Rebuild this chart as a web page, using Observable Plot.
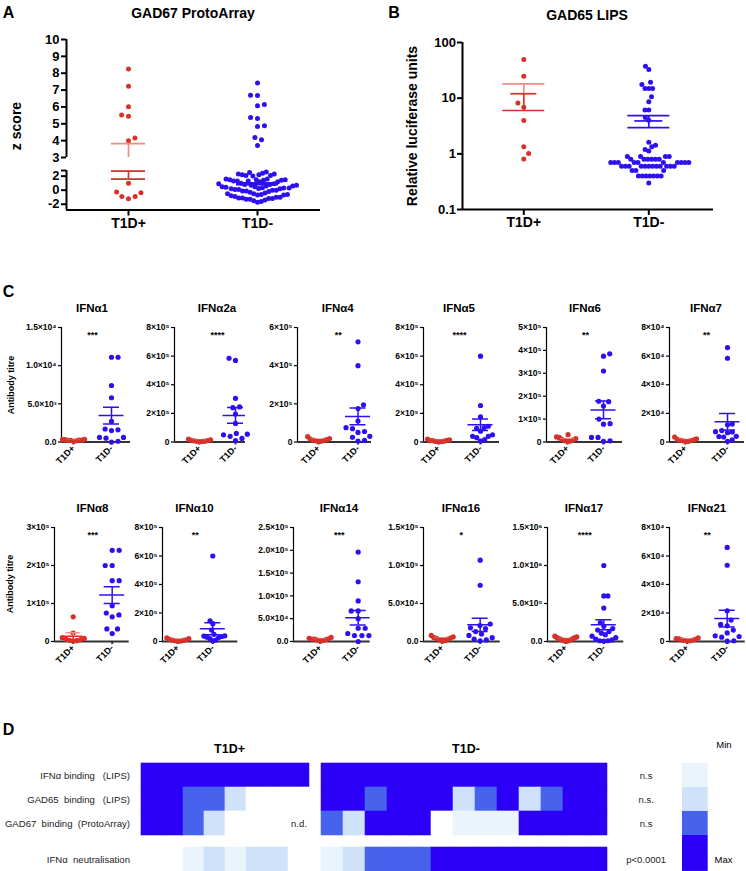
<!DOCTYPE html>
<html><head><meta charset="utf-8">
<script src="https://cdn.jsdelivr.net/npm/d3@7"></script>
<script src="https://cdn.jsdelivr.net/npm/@observablehq/plot@0.6"></script>
<style>
html,body{margin:0;padding:0;background:#fff;}
#page{position:relative;width:746px;height:871px;overflow:hidden;background:#fff;font-family:"Liberation Sans",Arial,Helvetica,sans-serif;}
#page svg{position:absolute;overflow:visible;}
.t{position:absolute;line-height:1;white-space:pre;transform:translate(-50%,-50%);color:#000;}
</style></head>
<body><div id="page"></div>
<script>
// ---------------- DATA ----------------
const groups = ["T1D+", "T1D-"];

// Panel A: GAD67 ProtoArray (z score)
const gad67Pos = [8.25, 7.22, 6.01, 5.52, 5.44, 4.15, 3.99, 1.0, -0.25, -0.9, -1.22, -0.9, -0.35];
const gad67Neg = [7.42, 6.7, 6.68, 6.15, 6.07, 5.38, 5.32, 4.88, 4.84, 4.19, 4.05, 3.71,
  2.6, 2.5, 2.4, 2.3, 2.2, 2.2, 2.1, 2.0, 2.1, 2.3,
  1.6, 1.5, 1.5, 1.4, 1.3, 1.3, 1.2, 1.2, 1.3, 1.4, 1.5, 1.6,
  1.0, 0.9, 0.8, 0.7, 0.6, 0.9, 0.8, 0.7, 0.6, 0.5, 0.5, 0.4,
  0.3, 0.2, 0.1, 0.0, -0.1, -0.2, 0.3, 0.2, 0.1, 0.0, -0.1, -0.3, 0.35, 0.25,
  -0.4, -0.5, -0.6, -0.7, -0.8, -0.5, -0.6, -0.7, -0.9, -1.0,
  -1.0, -1.1, -1.2, -1.3, -1.4, -1.5, -1.6, -1.7, -1.3, -1.2, -1.1];
const gad67Mean = [2.7, 0.92];
const gad67Sem = [1.12, 0.12];
const gad67UpperTicks = [3, 4, 5, 6, 7, 8, 9, 10];
const gad67LowerTicks = [-2, 0, 2];
const gad67LowerTickLabels = ["-2", "0", "2"];

// Panel B: GAD65 LIPS (relative luciferase units)
const gad65Pos = [49.5, 24.8, 8.2, 6.9, 3.98, 1.34, 1.01, 0.81];
const gad65Neg = [37.6, 32.7, 19.4, 17.6, 14.9, 14.9, 14.9, 10.6, 8.6, 6.1, 6.1, 4.5, 4.0, 1.62, 1.43, 1.34, 1.2, 1.12,
  0.9, 0.9, 0.9, 0.9, 0.8, 0.8, 0.8, 0.8, 0.8, 0.8,
  0.7, 0.7, 0.7, 0.7, 0.7, 0.7, 0.7, 0.7, 0.7, 0.7,
  0.6, 0.6, 0.6, 0.6, 0.6, 0.6, 0.6, 0.6, 0.6, 0.6, 0.6, 0.6,
  0.5, 0.5, 0.5, 0.4, 0.4, 0.4, 0.4, 0.4, 0.4, 0.4, 0.3];
const gad65Mean = [12, 3.9];
const gad65Sem = [6, 0.95];
const gad65Ticks = [0.1, 1, 10, 100];
const gad65TickLabels = ["0.1", "1", "10", "100"];

// Panel C: IFN-alpha subtypes (antibody titre)
const ifnNames = ["IFNα1", "IFNα2a", "IFNα4", "IFNα5", "IFNα6", "IFNα7",
                  "IFNα8", "IFNα10", "IFNα14", "IFNα16", "IFNα17", "IFNα21"];
const ifnSig = ["***", "****", "**", "****", "**", "**", "***", "**", "***", "*", "****", "**"];
const ifnPos = [
  [350, 300, 250, 200, 300, 150, 100, 250, 200],
  [20000, 15000, 12000, 8000, 6000, 5000, 4000, 3000, 10000],
  [28000, 18000, 15000, 10000, 8000, 6000, 4000, 2000, 12000],
  [20000, 15000, 12000, 9000, 6000, 4000, 3000, 2000, 10000],
  [32000, 22000, 20000, 12000, 9000, 6000, 4000, 2000, 15000],
  [3500, 2200, 1800, 1200, 800, 500, 300, 1500, 1000],
  [65000, 22000, 10000, 8000, 6000, 5000, 3000, 2000, 1000],
  [25000, 20000, 15000, 10000, 8000, 5000, 3000, 2000, 12000],
  [9000, 7000, 6000, 5000, 4000, 3000, 2000, 1000, 5500],
  [8000, 6000, 5000, 4000, 3000, 2000, 1000, 500, 4500],
  [70000, 60000, 50000, 40000, 30000, 20000, 15000, 10000, 5000, 3000, 40000, 55000, 25000],
  [2500, 2000, 1500, 1000, 800, 500, 300, 1800, 1200]];
const ifnNeg = [
  [11100, 11100, 7400, 5800, 2700, 1700, 1600, 1500, 600, 600, 500, 100, 0],
  [585000, 570000, 305000, 245000, 240000, 195000, 130000, 60000, 55000, 50000, 40000, 25000, 10000],
  [525000, 400000, 195000, 175000, 110000, 75000, 70000, 55000, 50000, 30000, 25000, 8000, 5000],
  [600000, 255000, 175000, 110000, 100000, 95000, 75000, 50000, 40000, 40000, 30000, 16000, 7000],
  [385000, 375000, 310000, 178000, 176000, 157000, 100000, 80000, 78000, 20000, 20000, 5000, 3000],
  [66000, 58500, 12500, 12000, 8000, 7200, 7000, 6500, 4000, 3800, 3500, 1500, 500],
  [240000, 240000, 200000, 200000, 160000, 160000, 94000, 75000, 70000, 65000, 33000, 33000, 21000],
  [600000, 145000, 125000, 80000, 50000, 40000, 38000, 35000, 30000, 28000, 20000, 10000, 5000],
  [196000, 131000, 89000, 67000, 67000, 50000, 29000, 29000, 17500, 13000, 13000, 13000, 0],
  [107000, 74000, 23000, 21000, 18000, 17000, 13000, 10000, 8000, 5000, 3000, 2000, 1000],
  [1000000, 600000, 600000, 440000, 250000, 200000, 170000, 150000, 130000, 110000, 90000, 70000, 50000, 30000, 20000, 10000, 10000, 5000],
  [66000, 53500, 21500, 15000, 12000, 11000, 8000, 6000, 4000, 3500, 3000, 500, 200]];
const ifnPosMean = [230, 9000, 11500, 9000, 10000, 1400, 13500, 11000, 4700, 3800, 32000, 1300];
const ifnPosSem = [30, 2000, 2800, 2000, 3000, 330, 9500, 2600, 850, 800, 6000, 250];
const ifnNegMean = [3460, 186000, 134000, 121000, 140000, 14100, 122000, 89000, 52000, 21900, 219000, 16100];
const ifnNegSem = [1100, 55000, 44000, 40000, 39000, 5800, 22000, 42000, 16000, 8800, 66000, 5900];
const ifnTickStep = [5000, 2e5, 2e5, 2e5, 1e5, 2e4, 1e5, 2e5, 5e4, 5e4, 5e5, 2e4];
const ifnTickLabels = [
  ["0.0", "5.0×10³", "1.0×10⁴", "1.5×10⁴"],
  ["0", "2×10⁵", "4×10⁵", "6×10⁵", "8×10⁵"],
  ["0", "2×10⁵", "4×10⁵", "6×10⁵"],
  ["0", "2×10⁵", "4×10⁵", "6×10⁵", "8×10⁵"],
  ["0", "1×10⁵", "2×10⁵", "3×10⁵", "4×10⁵", "5×10⁵"],
  ["0", "2×10⁴", "4×10⁴", "6×10⁴", "8×10⁴"],
  ["0", "1×10⁵", "2×10⁵", "3×10⁵"],
  ["0", "2×10⁵", "4×10⁵", "6×10⁵", "8×10⁵"],
  ["0.0", "5.0×10⁴", "1.0×10⁵", "1.5×10⁵", "2.0×10⁵", "2.5×10⁵"],
  ["0.0", "5.0×10⁴", "1.0×10⁵", "1.5×10⁵"],
  ["0.0", "5.0×10⁵", "1.0×10⁶", "1.5×10⁶"],
  ["0", "2×10⁴", "4×10⁴", "6×10⁴", "8×10⁴"]];

// Panel D: heatmap levels (0 none, 1 min ... 4 max)
const heatRows = ["IFNα binding\u00a0\u00a0 (LIPS)", "GAD65\u00a0 binding\u00a0\u00a0 (LIPS)", "GAD67\u00a0 binding\u00a0 (ProtoArray)"];
const neutralRow = ["IFNα\u00a0 neutralisation"];
const heatPos = [
  [4, 4, 4, 4, 4, 4, 4, 4],
  [4, 4, 3, 3, 2, 0, 0, 0],
  [4, 4, 3, 2, 0, 0, 0, 0]];
const heatNeg = [
  [4, 4, 4, 4, 4, 4, 4, 4, 4, 4, 4, 4, 4],
  [4, 4, 3, 4, 4, 4, 2, 3, 4, 2, 3, 4, 4],
  [3, 2, 4, 4, 4, 0, 1, 1, 1, 4, 4, 4, 4]];
const neutralPos = [0, 0, 1, 2, 1, 2, 2, 0];
const neutralNeg = [1, 2, 3, 3, 3, 4, 4, 4, 4, 4, 4, 4, 4];
const heatStats = ["n.s", "n.s.", "n.s"];
const neutralStats = ["p<0.0001"];
const legendLevels = [1, 2, 3, 4];
const heatColors = ["#ffffff", "#ebf3fd", "#cfe2fa", "#4763ee", "#2c00f6"];

// ---------------- STYLE / LAYOUT ----------------
const FONT = '"Liberation Sans", Arial, Helvetica, sans-serif';
const RED = "#d7322a", RED_LIGHT = "#ee8d86", BLUE = "#2d10f2";
const page = document.getElementById("page");
const baseStyle = {background: "transparent", overflow: "visible", fontFamily: FONT, color: "#000"};

function put(el, left, top) {
  el.style.left = left + "px"; el.style.top = top + "px"; page.appendChild(el);
}
function label(text, cx, cy, size, weight = "bold", rotate = false) {
  const d = document.createElement("div");
  d.className = "t"; d.textContent = text;
  d.style.fontSize = size + "px"; d.style.fontWeight = weight;
  d.style.left = cx + "px"; d.style.top = cy + "px";
  if (rotate) d.style.transform = "translate(-50%,-50%) rotate(-90deg)";
  page.appendChild(d);
}

// beeswarm offsets (pixels) for a column of points
function dodge(pys, D, maxHalf) {
  const n = pys.length, xs = new Array(n);
  const order = d3.range(n).sort((a, b) => pys[b] - pys[a] || a - b);
  const placed = [];
  let bal = 0;
  for (const i of order) {
    const y = pys[i];
    const near = placed.filter(p => Math.abs(p.y - y) < D);
    const cands = [0];
    for (const p of near) {
      const dx = Math.sqrt(D * D - (p.y - y) ** 2);
      cands.push(p.x - dx, p.x + dx);
    }
    cands.sort((a, b) => (Math.abs(a) - Math.abs(b)) || (bal > 0 ? a - b : b - a));
    let x = 0;
    for (const c of cands) {
      if (near.every(p => (p.x - c) ** 2 + (p.y - y) ** 2 >= D * D - 1e-6)) { x = c; break; }
    }
    xs[i] = x; bal += Math.sign(x);
    placed.push({x, y});
  }
  const m = d3.max(xs, Math.abs) || 0;
  return m > maxHalf ? xs.map(x => x * maxHalf / m) : xs;
}

function scatter(c) {
  const u = c.g1 - c.g0, W = c.right - c.left, H = c.bottom - c.top;
  const xDomain = [-(c.g0 - c.left) / u, (c.right - c.g0) / u];
  const lo = Math.min(...c.yDomain), hi = Math.max(...c.yDomain);
  const ys = (c.log ? d3.scaleLog() : d3.scaleLinear()).domain(c.yDomain).range([H, 0]);
  const pts = [];
  [c.pos, c.neg].forEach((vals, k) => {
    const vs = vals.filter(v => v >= lo && v <= hi);
    const off = dodge(vs.map(v => ys(v)), c.D, c.maxHalf[k]);
    vs.forEach((v, i) => pts.push({k, v, x: k + off[i] / u}));
  });
  const errs = [0, 1].map(k => ({k, m: c.mean[k], lo: c.mean[k] - c.sem[k], hi: c.mean[k] + c.sem[k]}));
  const dark = [RED, BLUE], light = [RED_LIGHT, BLUE];
  const allTicks = c.ticks.concat(c.stubs || []);
  const marks = [
    Plot.ruleX([xDomain[0]], {stroke: "#000", strokeWidth: c.axisW}),
    Plot.axisY({ticks: allTicks, tickFormat: d => { const i = c.ticks.indexOf(d); return i < 0 ? "" : c.tickLabels[i]; },
      tickSize: c.tickSize, tickPadding: c.tickPad, fontSize: c.tickFont, fontWeight: "bold",
      strokeWidth: c.axisW, label: null})
  ];
  if (c.showX) {
    marks.push(
      Plot.ruleY([c.yDomain[0]], {stroke: c.xAxisColor, strokeWidth: c.xAxisW}),
      Plot.axisX({ticks: [0, 1], tickFormat: d => groups[d], tickRotate: c.xRotate || 0,
        tickSize: c.xTickSize, tickPadding: c.xPad, fontSize: c.xFont, fontWeight: "bold",
        strokeWidth: c.xAxisW, stroke: c.xAxisColor, label: null})
    );
  }
  marks.push(
    Plot.dot(pts, {x: "x", y: "v", r: c.r, fill: d => dark[d.k], stroke: "none"}),
    Plot.ruleX(errs, {x: "k", y1: "lo", y2: "m", stroke: d => dark[d.k], strokeWidth: c.lw, clip: true}),
    Plot.ruleX(errs, {x: "k", y1: "m", y2: "hi", stroke: d => light[d.k], strokeWidth: c.lw, clip: true}),
    Plot.ruleY(errs, {y: "hi", x1: d => d.k - c.capHalf[d.k] / u, x2: d => d.k + c.capHalf[d.k] / u,
      stroke: d => light[d.k], strokeWidth: c.lw, clip: true}),
    Plot.ruleY(errs, {y: "lo", x1: d => d.k - c.capHalf[d.k] / u, x2: d => d.k + c.capHalf[d.k] / u,
      stroke: d => dark[d.k], strokeWidth: c.lw, clip: true}),
    Plot.ruleY(errs, {y: "m", x1: d => d.k - c.meanHalf[d.k] / u, x2: d => d.k + c.meanHalf[d.k] / u,
      stroke: d => dark[d.k], strokeWidth: c.lw, clip: true})
  );
  if (c.sig) marks.push(Plot.text([c.sig], {x: () => 0.5, frameAnchor: "top", dy: 4, fontSize: 9, fontWeight: "bold", fill: "#000"}));
  const svg = Plot.plot({
    width: c.mL + W + c.mR, height: c.mT + H + c.mB,
    marginLeft: c.mL, marginRight: c.mR, marginTop: c.mT, marginBottom: c.mB,
    x: {domain: xDomain, axis: null},
    y: {type: c.log ? "log" : "linear", domain: c.yDomain},
    color: {type: "identity"},
    style: baseStyle,
    marks
  });
  put(svg, c.left - c.mL, c.top - c.mT);
}

// ---------------- PANEL A ----------------
const aCommon = {pos: gad67Pos, neg: gad67Neg, mean: gad67Mean, sem: gad67Sem,
  left: 66, right: 320, g0: 128, g1: 257, mL: 50, mR: 10, r: 2.5, D: 7, maxHalf: [20, 39],
  meanHalf: [17, 21], capHalf: [17, 21], lw: 1.7, axisW: 2, tickFont: 13, tickSize: 5, tickPad: 2};
scatter({...aCommon, yDomain: [3, 10], ticks: gad67UpperTicks, tickLabels: gad67UpperTicks.map(String),
  top: 39, bottom: 157, mT: 10, mB: 8, showX: false});
scatter({...aCommon, yDomain: [-2.82, 2.8], ticks: gad67LowerTicks, tickLabels: gad67LowerTickLabels, stubs: [2.8],
  top: 169.5, bottom: 209, mT: 4, mB: 30, showX: true, xFont: 14, xTickSize: 6, xPad: 2, xAxisColor: "#000", xAxisW: 2});
label("A", 8.5, 12.5, 16);
label("GAD67 ProtoArray", 193, 13.3, 14);
label("z score", 16, 126, 14, "bold", true);

// ---------------- PANEL B ----------------
scatter({pos: gad65Pos, neg: gad65Neg, mean: gad65Mean, sem: gad65Sem, log: true,
  yDomain: [0.1, 100], ticks: gad65Ticks, tickLabels: gad65TickLabels,
  left: 462, right: 713, top: 42.3, bottom: 209.3, g0: 523.3, g1: 648.3, mL: 50, mR: 10, mT: 10, mB: 30,
  r: 2.5, D: 7.2, maxHalf: [20, 40], meanHalf: [13, 14], capHalf: [21, 21], lw: 1.7, axisW: 2,
  tickFont: 13, tickSize: 5, tickPad: 1.5, showX: true, xFont: 14, xTickSize: 6, xPad: 2, xAxisColor: "#000", xAxisW: 2});
label("B", 394, 12.5, 16);
label("GAD65 LIPS", 587, 15, 14);
label("Relative luciferase units", 411.5, 125.7, 14, "bold", true);

// ---------------- PANEL C ----------------
const cLayout = [
  {ax: 61, right: 130, g0: 73, g1: 111, row: 0},
  {ax: 174, right: 245, g0: 199, g1: 235, row: 0},
  {ax: 297, right: 371, g0: 318, g1: 357.5, row: 0},
  {ax: 423, right: 499, g0: 438, g1: 480, row: 0},
  {ax: 546, right: 622, g0: 567, g1: 603, row: 0},
  {ax: 669, right: 744, g0: 685, g1: 727, row: 0},
  {ax: 54.3, right: 129, g0: 73, g1: 112, row: 1},
  {ax: 161.7, right: 237, g0: 177, g1: 212, row: 1},
  {ax: 293.3, right: 370, g0: 320, g1: 358, row: 1},
  {ax: 423.3, right: 500, g0: 442, g1: 480, row: 1},
  {ax: 546.7, right: 623, g0: 565, g1: 603, row: 1},
  {ax: 669.3, right: 745, g0: 687, g1: 727, row: 1}];
const rowTop = [327, 527], rowZero = [441.5, 641];
ifnNames.forEach((name, i) => {
  const L = cLayout[i];
  const ticks = ifnTickLabels[i].map((_, k) => k * ifnTickStep[i]);
  scatter({pos: ifnPos[i], neg: ifnNeg[i], mean: [ifnPosMean[i], ifnNegMean[i]], sem: [ifnPosSem[i], ifnNegSem[i]],
    yDomain: [0, ticks[ticks.length - 1]], ticks, tickLabels: ifnTickLabels[i],
    left: L.ax, right: L.right, top: rowTop[L.row], bottom: rowZero[L.row], g0: L.g0, g1: L.g1,
    mL: 45, mR: 4, mT: 8, mB: 32, r: 2.6, D: 7, maxHalf: [11, 12],
    meanHalf: [10, 12.5], capHalf: [7, 8], lw: 1.5, axisW: 1.2, tickFont: 8.5, tickSize: 3, tickPad: 2,
    showX: true, xFont: 9, xRotate: -45, xTickSize: 3, xPad: 2, xAxisColor: "#333", xAxisW: 2, sig: ifnSig[i]});
  label(name, (L.g0 + L.g1) / 2, rowTop[L.row] - 18.5, 11.5);
});
label("C", 8.5, 291.5, 16);
label("Antibody titre", 11, 385, 9, "bold", true);
label("Antibody titre", 10, 584, 9, "bold", true);

// ---------------- PANEL D ----------------
function heat(matrix, rows, left, top, colW, rowH, opts = {}) {
  const ncol = matrix[0].length;
  const cells = matrix.flatMap((row, r) => row.map((v, c) => ({r: rows[r], c, v})));
  const mL = opts.mL || 0, mR = opts.mR || 0;
  const marks = [Plot.cell(cells, {x: "c", y: "r", fill: "v", stroke: "v", strokeWidth: 0.6, inset: 0})];
  if (opts.rowLabels) marks.push(Plot.axisY({tickSize: 0, tickPadding: 8.5, fontSize: 9.6, label: null, fill: "#222"}));
  if (opts.stats) marks.push(Plot.text(opts.stats, {y: (d, i) => rows[i], frameAnchor: "right", textAnchor: "middle", dx: 38, fontSize: 9.5, fill: "#222"}));
  if (opts.nd) marks.push(Plot.text([opts.nd], {x: () => ncol - 1, y: () => rows[rows.length - 1], fontSize: 9.5, fill: "#222"}));
  const svg = Plot.plot({
    width: mL + ncol * colW + mR, height: rows.length * rowH,
    marginLeft: mL, marginRight: mR, marginTop: 0, marginBottom: 0,
    x: {type: "band", domain: d3.range(ncol), padding: 0, axis: null},
    y: opts.rowLabels ? {type: "band", domain: rows, padding: 0} : {type: "band", domain: rows, padding: 0, axis: null},
    color: {type: "ordinal", domain: [0, 1, 2, 3, 4], range: heatColors},
    style: baseStyle,
    marks
  });
  put(svg, left - mL, top);
}
heat(heatPos, heatRows, 137.7, 763.3, 21.66, 24, {mL: 137, rowLabels: true, nd: "n.d."});
heat(heatNeg, heatRows, 320, 763.3, 22.13, 24, {mR: 70, stats: heatStats});
heat([neutralPos], neutralRow, 137.7, 846.7, 21.66, 24.3, {mL: 137, rowLabels: true});
heat([neutralNeg], neutralRow, 320, 846.7, 22.13, 24.3, {mR: 70, stats: neutralStats});

const legend = Plot.plot({
  width: 25.7, height: 108, margin: 0,
  x: {domain: [0, 1], axis: null},
  y: {domain: [0, 4.5], reverse: true, axis: null},
  color: {type: "ordinal", domain: [0, 1, 2, 3, 4], range: heatColors},
  style: baseStyle,
  marks: [Plot.rect(legendLevels, {x1: 0, x2: 1, y1: d => d - 1, y2: d => d === 4 ? 4.5 : d, fill: d => d, inset: 0})]
});
put(legend, 682, 763.3);
label("D", 8.5, 729.5, 16);
label("T1D+", 229.5, 749, 12.5);
label("T1D-", 466, 749, 12.5);
label("Min", 724, 745, 9.5, "normal");
label("Max", 723.5, 860, 9.5, "normal");
</script>
</body></html>
